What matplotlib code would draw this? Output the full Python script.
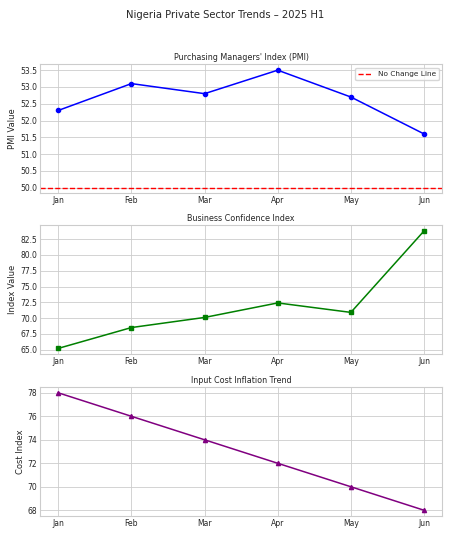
import matplotlib
matplotlib.use("Agg")
import matplotlib.pyplot as plt
from matplotlib.ticker import MultipleLocator
import seaborn as sns

months = ["Jan", "Feb", "Mar", "Apr", "May", "Jun"]
pmi = [52.3, 53.1, 52.8, 53.5, 52.7, 51.6]
confidence = [65.2, 68.5, 70.1, 72.4, 70.9, 83.8]
input_cost = [78, 76, 74, 72, 70, 68]
no_change = 50.0

sns.set_theme(style="whitegrid")
plt.rcParams['font.family'] = ['DejaVu Sans']

fig = plt.figure(figsize=(4.51, 5.45), dpi=100)
left, width, height = 0.0887, 0.892, 0.237
ax1 = fig.add_axes([left, 0.645, width, height])
ax2 = fig.add_axes([left, 0.350, width, height])
ax3 = fig.add_axes([left, 0.053, width, height])

fig.suptitle("Nigeria Private Sector Trends – 2025 H1", fontsize=7.2, y=0.982)

ax1.plot(months, pmi, marker="o", color="blue", linewidth=1.1, markersize=3)
ax1.axhline(no_change, color="red", linestyle="--", linewidth=1, label="No Change Line")
ax1.set_title("Purchasing Managers' Index (PMI)", fontsize=5.8, pad=3)
ax1.set_ylabel("PMI Value", fontsize=6, labelpad=2)
ax1.legend(fontsize=5.3, loc="upper right", handlelength=1.8)
ax1.yaxis.set_major_locator(MultipleLocator(0.5))

ax2.plot(months, confidence, marker="s", color="green", linewidth=1.1, markersize=3)
ax2.set_title("Business Confidence Index", fontsize=5.8, pad=3)
ax2.set_ylabel("Index Value", fontsize=6, labelpad=2)
ax2.yaxis.set_major_locator(MultipleLocator(2.5))

ax3.plot(months, input_cost, marker="^", color="purple", linewidth=1.1, markersize=3)
ax3.set_title("Input Cost Inflation Trend", fontsize=5.8, pad=3)
ax3.set_ylabel("Cost Index", fontsize=6, labelpad=2)
ax3.yaxis.set_major_locator(MultipleLocator(2))

for ax in (ax1, ax2, ax3):
    ax.tick_params(labelsize=5.5, pad=2, length=0)
    for s in ax.spines.values():
        s.set_linewidth(0.8)
    ax.grid(linewidth=0.6)

fig.savefig("out.png", dpi=100)
